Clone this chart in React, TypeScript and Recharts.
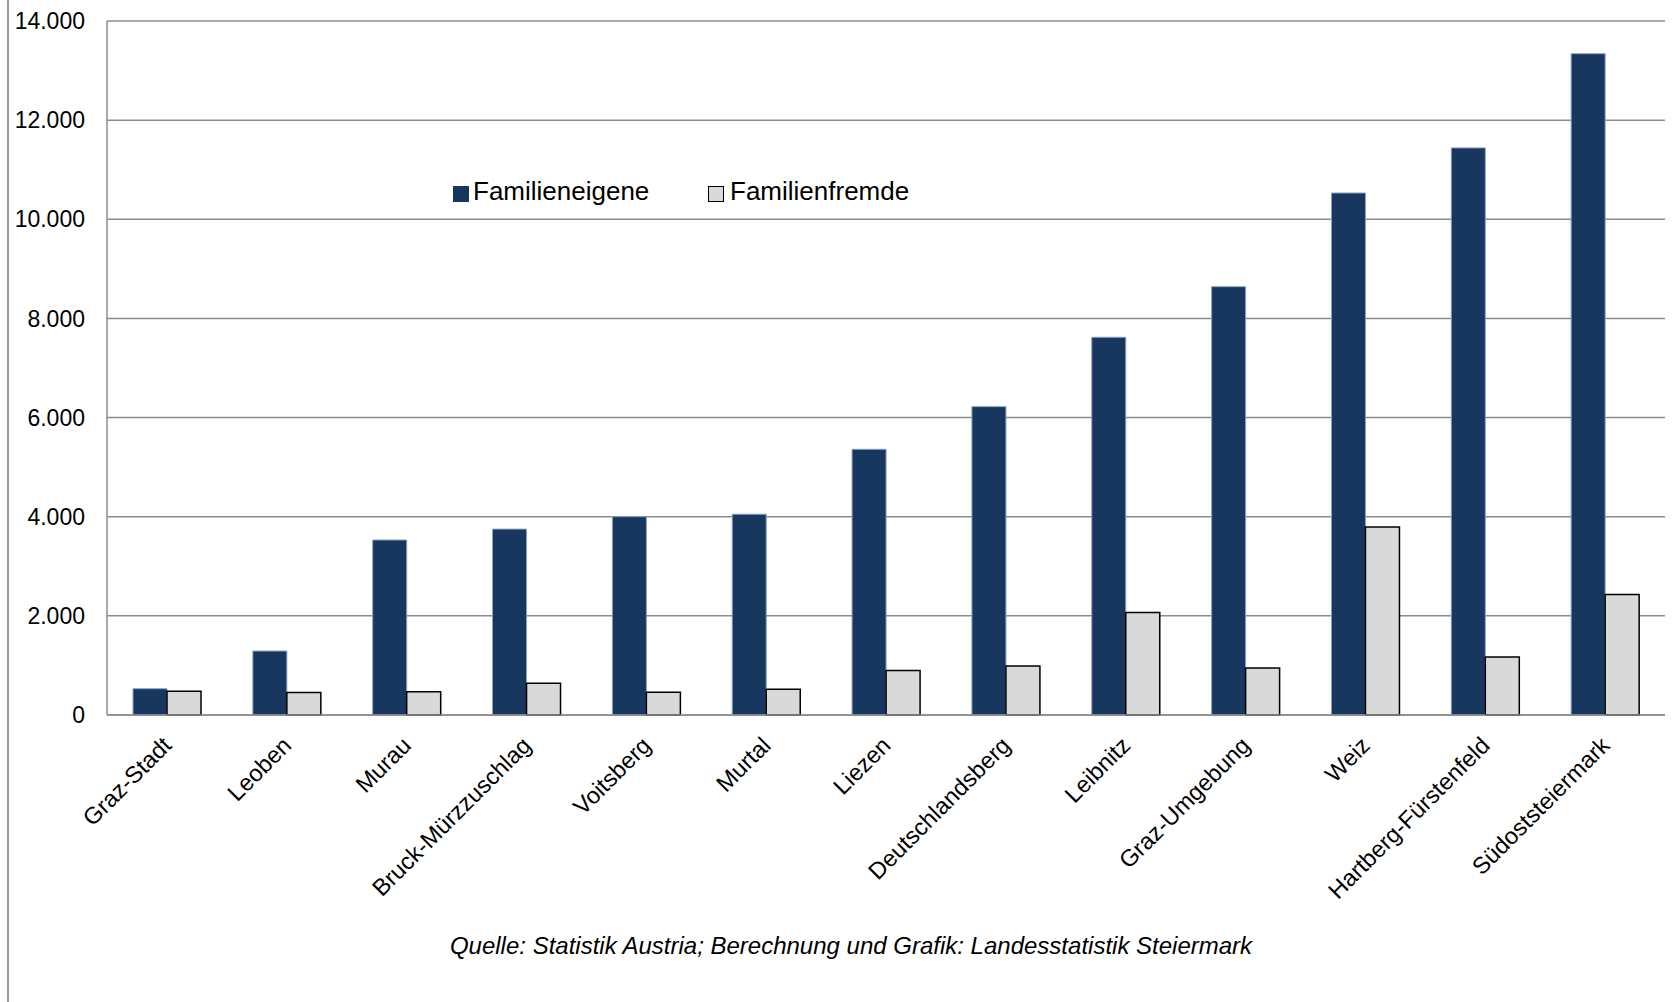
import React from 'react';
import { Bar, BarChart, CartesianGrid, XAxis, YAxis } from 'recharts';

// Bezirke der Steiermark, sortiert nach Familieneigenen
const bezirke = [
  'Graz-Stadt', 'Leoben', 'Murau', 'Bruck-Mürzzuschlag', 'Voitsberg', 'Murtal', 'Liezen',
  'Deutschlandsberg', 'Leibnitz', 'Graz-Umgebung', 'Weiz', 'Hartberg-Fürstenfeld', 'Südoststeiermark',
];
const familieneigene = [530, 1290, 3530, 3750, 4000, 4050, 5360, 6220, 7620, 8640, 10530, 11440, 13340];
const familienfremde = [480, 455, 470, 640, 460, 520, 900, 990, 2070, 950, 3790, 1170, 2430];
const yTicks = [0, 2000, 4000, 6000, 8000, 10000, 12000, 14000];

const DARK = '#17375E';
const LIGHT = '#D9D9D9';
const FONT = '"Liberation Sans", Arial, sans-serif';

const data = bezirke.map((name, i) => ({
  name,
  eigene: familieneigene[i],
  fremde: familienfremde[i],
}));

const fmt = (v: number) => String(v).replace(/\B(?=(\d{3})+(?!\d))/g, '.');

const XTick = ({ x, y, payload }: any) => (
  <text
    x={x + 6}
    y={y + 24}
    transform={`rotate(-45, ${x + 6}, ${y + 24})`}
    textAnchor="end"
    fontSize={23.5}
    fontFamily={FONT}
    fill="#000"
  >
    {payload.value}
  </text>
);

// Legende als einfaches HTML über dem Diagramm
const LegendBox = () => (
  <div style={{ position: 'absolute', left: 453, top: 176, fontFamily: FONT, fontSize: 26, color: '#000', height: 32, width: 520 }}>
    <span style={{ position: 'absolute', left: 0, top: 10, width: 16, height: 16, background: DARK }} />
    <span style={{ position: 'absolute', left: 20, top: 0 }}>Familieneigene</span>
    <span style={{ position: 'absolute', left: 255, top: 10, width: 14, height: 14, background: LIGHT, border: '1.5px solid #000' }} />
    <span style={{ position: 'absolute', left: 277, top: 0 }}>Familienfremde</span>
  </div>
);

export default function App() {
  return (
    <div style={{ position: 'absolute', left: 0, top: 0, width: 1675, height: 1002, background: '#fff' }}>
      <div style={{ position: 'absolute', left: 7, top: 0, width: 2, height: 1002, background: '#999' }} />
      <BarChart
        width={1675}
        height={1002}
        data={data}
        margin={{ top: 21, right: 10, left: 10, bottom: 0 }}
        barGap={0}
        barSize={34}
      >
        <CartesianGrid vertical={false} stroke="#8c8c8c" strokeWidth={1.5} />
        <YAxis
          width={97}
          domain={[0, 14000]}
          ticks={yTicks}
          tickFormatter={fmt}
          tickLine={false}
          tickSize={0}
          tickMargin={22}
          axisLine={{ stroke: '#8c8c8c', strokeWidth: 1.5 }}
          tick={{ fill: '#000', fontSize: 23, fontFamily: FONT }}
          interval={0}
        />
        <XAxis
          dataKey="name"
          height={287}
          interval={0}
          tickLine={false}
          axisLine={{ stroke: '#8c8c8c', strokeWidth: 1.5 }}
          tick={<XTick />}
        />
        <Bar dataKey="eigene" fill={DARK} stroke="#8aa0bd" strokeWidth={1} isAnimationActive={false} />
        <Bar dataKey="fremde" fill={LIGHT} stroke="#000" strokeWidth={1.5} isAnimationActive={false} />
      </BarChart>
      <LegendBox />
      <div
        style={{
          position: 'absolute',
          left: 0,
          width: 1702,
          top: 932,
          textAlign: 'center',
          fontFamily: FONT,
          fontStyle: 'italic',
          fontSize: 24,
          color: '#000',
        }}
      >
        Quelle: Statistik Austria; Berechnung und Grafik: Landesstatistik Steiermark
      </div>
    </div>
  );
}
